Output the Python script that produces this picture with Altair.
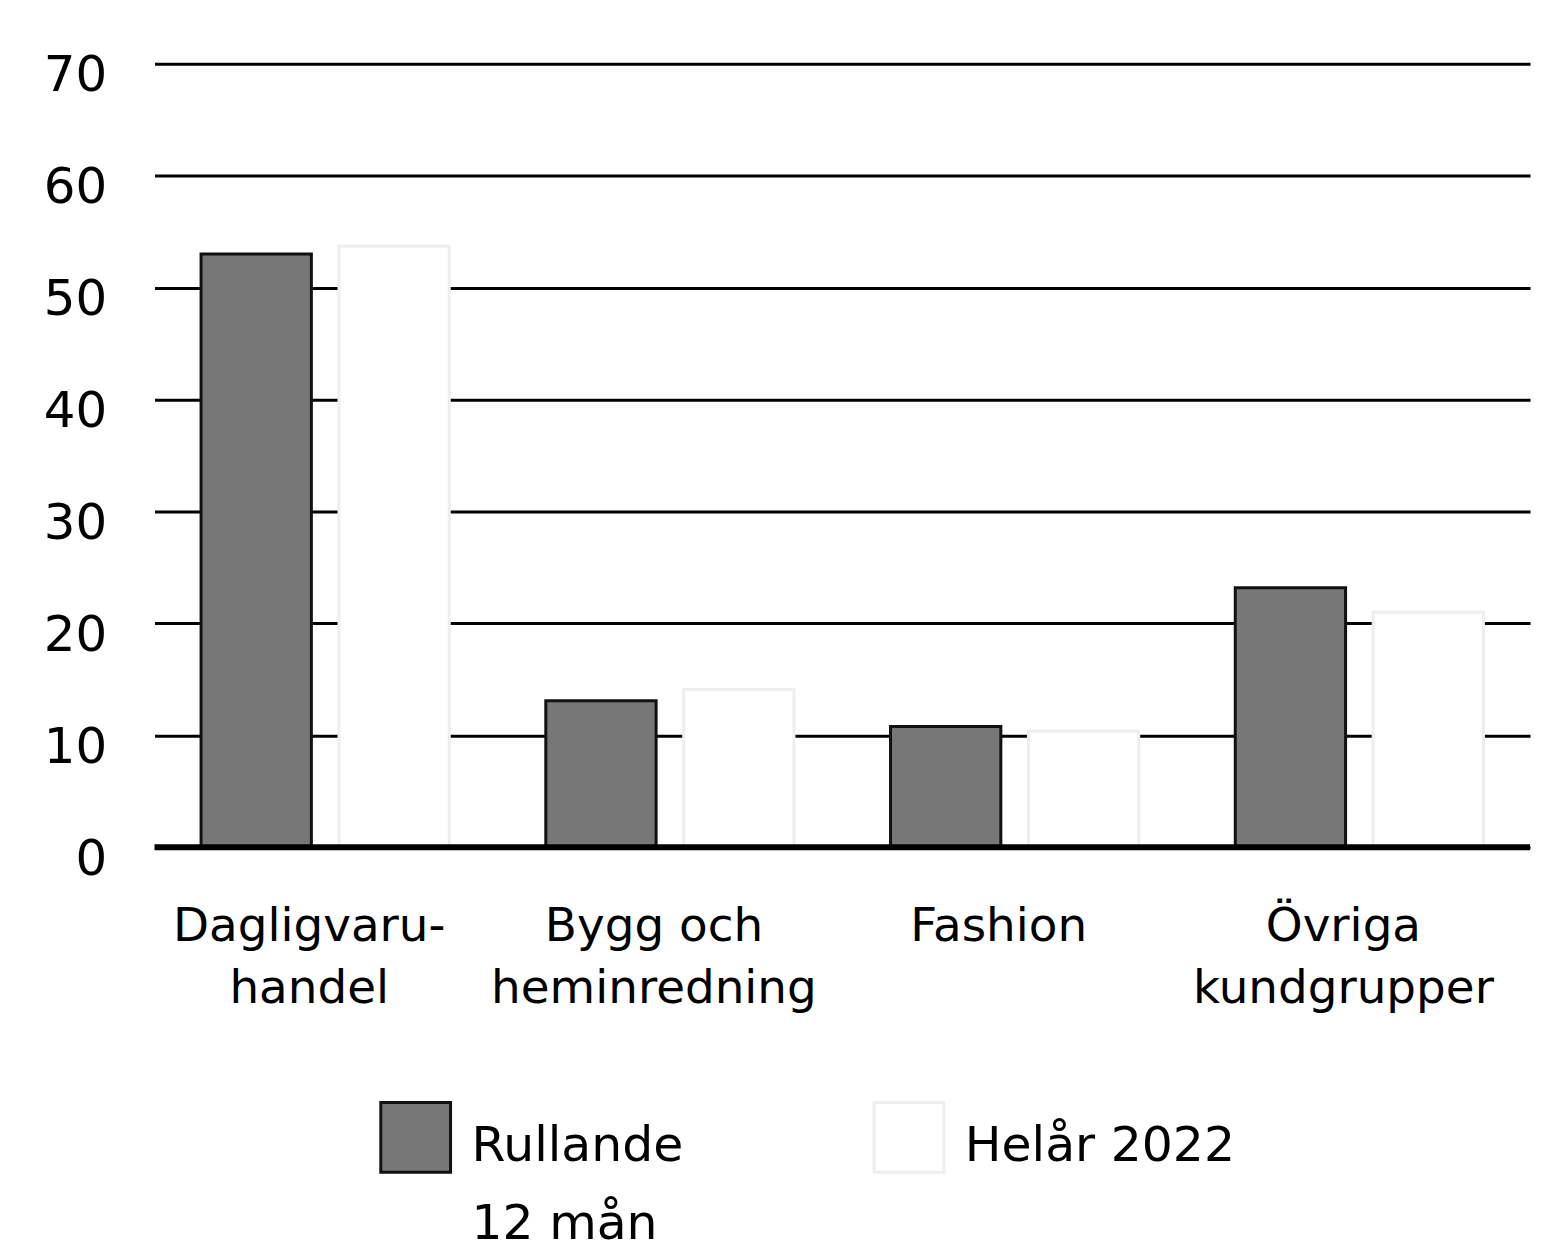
import altair as alt
import pandas as pd

# ---- data ----
categories = ["Dagligvaru-|handel", "Bygg och|heminredning", "Fashion", "Övriga|kundgrupper"]
series = ["Rullande|12 mån", "Helår 2022"]
rullande_12 = [53.0, 13.1, 10.8, 23.2]
helar_2022 = [53.7, 14.1, 10.4, 21.0]
y_ticks = [0, 10, 20, 30, 40, 50, 60, 70]

rows = []
for cat, r, h in zip(categories, rullande_12, helar_2022):
    rows.append({"kategori": cat, "serie": series[0], "varde": r})
    rows.append({"kategori": cat, "serie": series[1], "varde": h})
df = pd.DataFrame(rows)
legend_df = pd.DataFrame({"serie": series})

FONT = "DejaVu Sans"
FILLS = ["#777777", "#ffffff"]
STROKES = ["#111111", "#eeeeee"]

bars = alt.Chart(df).mark_bar(strokeWidth=3, opacity=1).encode(
    x=alt.X(
        "kategori:N",
        sort=categories,
        scale=alt.Scale(paddingInner=0.28, paddingOuter=0.135),
        axis=alt.Axis(
            title=None,
            labelExpr="split(datum.label, '|')",
            labelAngle=0,
            labelFont=FONT,
            labelFontSize=47,
            labelColor="black",
            labelPadding=57,
            labelLineHeight=62,
            labelOffset=-16,
            labelLimit=0,
            ticks=False,
            domain=False,
            grid=False,
        ),
    ),
    xOffset=alt.XOffset("serie:N", sort=series, scale=alt.Scale(paddingInner=0.2, paddingOuter=0)),
    y=alt.Y(
        "varde:Q",
        scale=alt.Scale(domain=[0, 70], nice=False),
        axis=alt.Axis(
            title=None,
            values=y_ticks,
            labelFont=FONT,
            labelFontSize=50,
            labelColor="black",
            labelPadding=48,
            labelOffset=12,
            ticks=False,
            domain=False,
            grid=True,
            gridColor="black",
            gridWidth=3,
            gridOpacity=1,
        ),
    ),
    fill=alt.Fill("serie:N", sort=series, scale=alt.Scale(domain=series, range=FILLS), legend=None),
    stroke=alt.Stroke("serie:N", sort=series, scale=alt.Scale(domain=series, range=STROKES), legend=None),
)

zero = alt.Chart(pd.DataFrame({"y": [0]})).mark_rule(color="black", strokeWidth=6).encode(y="y:Q")

main = alt.layer(bars, zero).properties(width=1380, height=786)

# ---- legend built as a small chart ----
lx = alt.X("serie:N", sort=series, scale=alt.Scale(type="point", domain=series, range=[262, 757], padding=0), axis=None)
leg_sym = alt.Chart(legend_df).mark_square(size=4900, strokeWidth=3, opacity=1).encode(
    x=lx,
    y=alt.value(35),
    fill=alt.Fill("serie:N", scale=alt.Scale(domain=series, range=FILLS), legend=None),
    stroke=alt.Stroke("serie:N", scale=alt.Scale(domain=series, range=STROKES), legend=None),
)
leg_txt = alt.Chart(legend_df).transform_calculate(
    lbl="split(datum.serie, '|')"
).mark_text(
    align="left", baseline="middle", dx=56, font=FONT, fontSize=49, lineHeight=78, color="black"
).encode(x=lx, y=alt.value(44), text="lbl:N")

leg = alt.layer(leg_sym, leg_txt).properties(width=1380, height=118)

chart = (
    alt.vconcat(main, leg, spacing=85)
    .properties(padding={"left": 35, "top": 41, "right": 0, "bottom": 0}, background="white")
    .configure_view(stroke=None, strokeWidth=0)
)

chart.save("out.html", embed_options={"renderer": "svg", "actions": False})
